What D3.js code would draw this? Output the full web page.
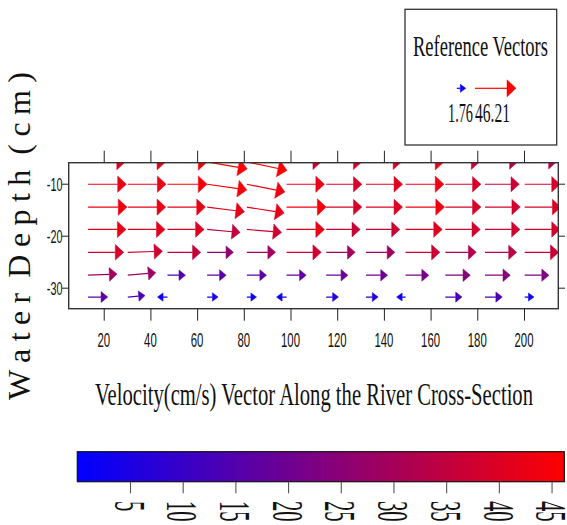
<!DOCTYPE html>
<html>
<head>
<meta charset="utf-8">
<script src="https://cdn.jsdelivr.net/npm/d3@7"></script>
<style>
  html, body { margin: 0; padding: 0; background: #fff; }
  svg { display: block; }
</style>
</head>
<body>
<svg id="chart" width="567" height="525"></svg>
<script>
// Measurement grid: horizontal stations (cm) and depths (cm)
const stations = [13.3, 30.3, 47.3, 64.3, 81.3, 98.3, 115.3, 132.3, 149.3, 166.3, 183.3, 200.3];
const depths = [-5.8, -10.1, -14.5, -18.8, -23.2, -27.6, -31.8];

// Horizontal velocity component (cm/s), one list per depth row
const uRow1 = [41.1, 42.0, 44.4, 45.0, 45.2, 37.5, 38.8, 38.8, 42.5, 36.9, 34.7, 33.7];
const uRow2 = [42.5, 42.5, 44.4, 44.5, 42.3, 42.0, 38.8, 40.2, 42.5, 38.8, 36.9, 38.5];
const uRow3 = [43.4, 42.0, 42.0, 41.2, 41.2, 44.4, 38.8, 40.2, 43.4, 38.8, 38.3, 39.5];
const uRow4 = [42.0, 41.1, 40.2, 35.1, 37.5, 42.0, 36.5, 36.5, 40.2, 37.9, 37.9, 38.5];
const uRow5 = [38.8, 37.5, 35.5, 25.8, 29.1, 37.5, 29.5, 29.5, 36.9, 32.3, 33.3, 36.5];
const uRow6 = [29.5, 28.2, 14.3, 15.7, 16.6, 16.6, 19.4, 19.4, 21.6, 24.0, 24.4, 23.0];
const uRow7 = [16.6, 13.3, -3.2, 4.5, 2.7, -3.2, 6.3, 6.3, -1.76, 12.5, 13.3, 2.2];

// Vertical velocity component (cm/s), one list per depth row
const vRow1 = [0, 0, 0, -7.9, -9.6, 0, 0, 0, 0, 0, 0, 0];
const vRow2 = [0, 0, 0, -6.4, -8.6, 0, 0, 0, 0, 0, 0, 0];
const vRow3 = [0, 0, 0, -5.2, -6.6, 0, 0, 0, 0, 0, 0, 0];
const vRow4 = [0, 0, 0, -3.2, -3.2, 0, 0, 0, 0, 0, 0, 0];
const vRow5 = [0, 1.2, 0, 0, 0, 0, 0, 0, 0, 0, 0, 0];
const vRow6 = [1.2, 2.5, 0, 0, 0, 0, 0, 0, 0, 0, 0, 0];
const vRow7 = [0, 1.2, 0, 0, 0, 0, 0, 0, 0, 0, 0, 0];

const uRows = [uRow1, uRow2, uRow3, uRow4, uRow5, uRow6, uRow7];
const vRows = [vRow1, vRow2, vRow3, vRow4, vRow5, vRow6, vRow7];

// Reference vector magnitudes (min and max speed)
const refSpeeds = [1.76, 46.21];

// Axis ticks
const xTicks = [20, 40, 60, 80, 100, 120, 140, 160, 180, 200];
const yTicks = [-10, -20, -30];
const colorTicks = [5, 10, 15, 20, 25, 30, 35, 40, 45];

const svg = d3.select("#chart");

// Plot region
const plot = { left: 68.7, right: 558.3, top: 162.7, bottom: 308.7 };
const x = d3.scaleLinear().domain([5, 214.7]).range([plot.left, plot.right]);
const y = d3.scaleLinear().domain([-34.04, -5.96]).range([plot.bottom, plot.top]);

// Speed -> colour, arrow length, head size
const speedDomain = [0, refSpeeds[1]];
const color = d3.scaleLinear().domain(speedDomain).range(["#0000ff", "#ff0000"]).interpolate(d3.interpolateRgb);
const lenScale = d3.scaleLinear().domain(refSpeeds).range([9, 41]);
const headLen = d3.scaleLinear().domain(refSpeeds).range([5.5, 9]);
const headHalf = d3.scaleLinear().domain(refSpeeds).range([4, 8.5]);

// Flatten the vector field
const vectors = [];
depths.forEach((d, i) => {
  stations.forEach((s, j) => {
    vectors.push({ x: s, y: d, u: uRows[i][j], v: vRows[i][j] });
  });
});

function arrowGeom(x0, y0, u, v) {
  const mag = Math.hypot(u, v);
  const dx = u / mag, dy = -v / mag;
  const L = lenScale(mag);
  const tx = x0 + dx * L, ty = y0 + dy * L;
  const hl = headLen(mag), hw = headHalf(mag);
  const bx = tx - dx * hl, by = ty - dy * hl;
  const px = -dy, py = dx;
  return {
    mag,
    shaft: [x0, y0, bx, by],
    head: [[tx, ty], [bx + px * hw, by + py * hw], [bx - px * hw, by - py * hw]]
  };
}

function drawArrow(g, x0, y0, u, v) {
  const a = arrowGeom(x0, y0, u, v);
  const c = color(a.mag);
  g.append("line")
    .attr("x1", a.shaft[0]).attr("y1", a.shaft[1])
    .attr("x2", a.shaft[2]).attr("y2", a.shaft[3])
    .attr("stroke", c).attr("stroke-width", 1.2);
  g.append("path")
    .attr("d", "M" + a.head.map(p => p.join(",")).join("L") + "Z")
    .attr("fill", c).attr("stroke", c).attr("stroke-width", 0.5);
}

// Clip vectors to the plotting region
svg.append("defs").append("clipPath").attr("id", "plotClip")
  .append("rect")
  .attr("x", plot.left).attr("y", plot.top)
  .attr("width", plot.right - plot.left).attr("height", plot.bottom - plot.top);

const field = svg.append("g").attr("clip-path", "url(#plotClip)");
vectors.forEach(d => {
  const g = field.append("g");
  drawArrow(g, x(d.x), y(d.y), d.u, d.v);
});

// Plot frame
svg.append("rect")
  .attr("x", plot.left).attr("y", plot.top)
  .attr("width", plot.right - plot.left).attr("height", plot.bottom - plot.top)
  .attr("fill", "none").attr("stroke", "#333").attr("stroke-width", 1.4);

// Axes (R-style: outward ticks on all four sides, labels bottom and left)
const tickColor = "#222";
const bottomAxis = svg.append("g").attr("transform", `translate(0,${plot.bottom})`)
  .call(d3.axisBottom(x).tickValues(xTicks).tickSize(12).tickFormat(""));
const topAxis = svg.append("g").attr("transform", `translate(0,${plot.top})`)
  .call(d3.axisTop(x).tickValues(xTicks).tickSize(12).tickFormat(""));
const leftAxis = svg.append("g").attr("transform", `translate(${plot.left},0)`)
  .call(d3.axisLeft(y).tickValues(yTicks).tickSize(6.7).tickFormat(""));
const rightAxis = svg.append("g").attr("transform", `translate(${plot.right},0)`)
  .call(d3.axisRight(y).tickValues(yTicks).tickSize(6.7).tickFormat(""));
[bottomAxis, topAxis, leftAxis, rightAxis].forEach(a => {
  a.select(".domain").remove();
  a.selectAll(".tick line").attr("stroke", tickColor).attr("stroke-width", 1);
});

// Tick labels: narrow sans
const labelFont = "'Liberation Sans', Arial, sans-serif";
const narrow = 0.57;
svg.append("g").selectAll("text").data(xTicks).join("text")
  .attr("transform", d => `translate(${x(d)},346.5) scale(${narrow},1)`)
  .attr("text-anchor", "middle")
  .attr("font-family", labelFont).attr("font-size", 20).attr("fill", "#111")
  .text(d => d);
svg.append("g").selectAll("text").data(yTicks).join("text")
  .attr("transform", d => `translate(62.5,${y(d) + 7}) scale(${narrow},1)`)
  .attr("text-anchor", "end")
  .attr("font-family", labelFont).attr("font-size", 19).attr("fill", "#111")
  .text(d => d);

// Axis title (depth)
const serif = "'Liberation Serif', 'Times New Roman', serif";
svg.append("text")
  .attr("transform", "translate(30,236) rotate(-90)")
  .attr("text-anchor", "middle")
  .attr("font-family", serif).attr("font-size", 32).attr("fill", "#111")
  .attr("textLength", 328).attr("lengthAdjust", "spacing")
  .style("white-space", "pre")
  .text("W a t e r  D e p t h  ( c m )");

// Main title under the plot
svg.append("text")
  .attr("x", 314).attr("y", 405)
  .attr("text-anchor", "middle")
  .attr("font-family", serif).attr("font-size", 32).attr("fill", "#111")
  .attr("textLength", 438).attr("lengthAdjust", "spacingAndGlyphs")
  .text("Velocity(cm/s) Vector Along the River Cross-Section");

// Reference vector legend
const legend = svg.append("g");
legend.append("rect")
  .attr("x", 405).attr("y", 9.3).attr("width", 151.7).attr("height", 135.7)
  .attr("fill", "#fff").attr("stroke", "#333").attr("stroke-width", 1.3);
legend.append("text")
  .attr("x", 480.5).attr("y", 56)
  .attr("text-anchor", "middle")
  .attr("font-family", serif).attr("font-size", 29).attr("fill", "#111")
  .attr("textLength", 135).attr("lengthAdjust", "spacingAndGlyphs")
  .text("Reference Vectors");
const refCenters = [461.3, 495.5];
const refLabelWidths = [25, 35];
const refLabelCenters = [460.5, 492.5];
refSpeeds.forEach((s, i) => {
  const L = lenScale(s);
  drawArrow(legend, refCenters[i] - L / 2, 88.3, s, 0);
  legend.append("text")
    .attr("x", refLabelCenters[i]).attr("y", 122)
    .attr("text-anchor", "middle")
    .attr("font-family", serif).attr("font-size", 27).attr("fill", "#111")
    .attr("textLength", refLabelWidths[i]).attr("lengthAdjust", "spacingAndGlyphs")
    .text(s.toFixed(2));
});

// Colour bar
const cb = { left: 77.3, right: 564.3, top: 451.7, bottom: 481.7 };
const cbScale = d3.scaleLinear().domain(speedDomain).range([cb.left, cb.right]);
const grad = svg.select("defs").append("linearGradient").attr("id", "speedGrad")
  .attr("x1", "0%").attr("x2", "100%").attr("y1", "0%").attr("y2", "0%");
d3.range(0, 11).forEach(k => {
  const t = k / 10;
  grad.append("stop").attr("offset", (t * 100) + "%")
    .attr("stop-color", color(speedDomain[0] + t * (speedDomain[1] - speedDomain[0])));
});
svg.append("rect")
  .attr("x", cb.left).attr("y", cb.top)
  .attr("width", cb.right - cb.left).attr("height", cb.bottom - cb.top)
  .attr("fill", "url(#speedGrad)").attr("stroke", "#111").attr("stroke-width", 1.2);
const cbAxis = svg.append("g").attr("transform", `translate(0,${cb.bottom})`)
  .call(d3.axisBottom(cbScale).tickValues(colorTicks).tickSize(11.6).tickFormat(""));
cbAxis.select(".domain").remove();
cbAxis.selectAll(".tick line").attr("stroke", "#555").attr("stroke-width", 1.1);
svg.append("g").selectAll("text").data(colorTicks).join("text")
  .attr("transform", d => `translate(${cbScale(d)},501) rotate(90) scale(0.46,1)`)
  .attr("y", "0.34em")
  .attr("text-anchor", "start")
  .attr("font-family", serif).attr("font-size", 45).attr("fill", "#111")
  .text(d => d);
</script>
</body>
</html>
